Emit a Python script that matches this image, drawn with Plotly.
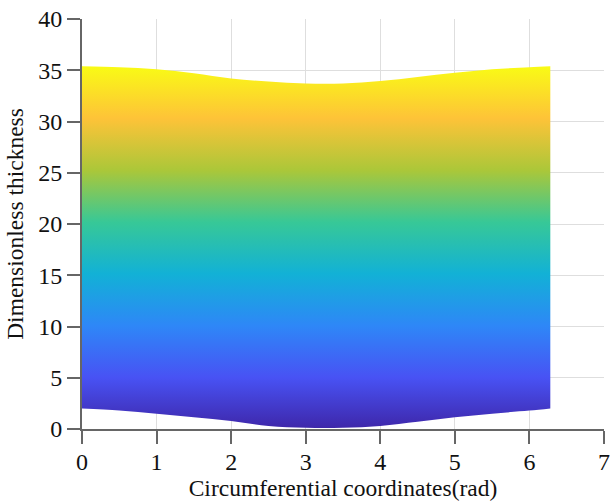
import plotly.graph_objects as go

# Circumferential coordinate (rad) samples
theta = [0, 0.5, 1, 1.5, 2, 2.5, 3, 3.5, 4, 4.5, 5, 5.5, 6, 6.28]
# Upper and lower boundaries of the dimensionless thickness region
upper = [35.4, 35.3, 35.1, 34.7, 34.2, 33.9, 33.7, 33.7, 33.95, 34.35, 34.75, 35.1, 35.3, 35.4]
lower = [2.0, 1.8, 1.5, 1.15, 0.78, 0.3, 0.12, 0.12, 0.3, 0.7, 1.15, 1.5, 1.8, 2.0]

x_ticks = [0, 1, 2, 3, 4, 5, 6, 7]
y_ticks = [0, 5, 10, 15, 20, 25, 30, 35, 40]

parula = [
    [0.0, "rgb(62,38,168)"],
    [0.143, "rgb(72,82,244)"],
    [0.286, "rgb(46,135,247)"],
    [0.429, "rgb(18,177,214)"],
    [0.571, "rgb(55,200,151)"],
    [0.714, "rgb(171,199,57)"],
    [0.857, "rgb(254,195,56)"],
    [1.0, "rgb(249,251,21)"],
]

fig = go.Figure()
fig.add_trace(go.Scatter(
    x=theta, y=lower, mode="lines",
    line=dict(width=0, shape="spline", color="rgba(0,0,0,0)"),
    showlegend=False, hoverinfo="skip",
))
fig.add_trace(go.Scatter(
    x=theta, y=upper, mode="lines",
    line=dict(width=0, shape="spline", color="rgba(0,0,0,0)"),
    fill="tonexty",
    fillgradient=dict(type="vertical", colorscale=parula,
                      start=min(lower), stop=max(upper)),
    showlegend=False, hoverinfo="skip",
))

font_family = "Liberation Serif"
axis_common = dict(
    showgrid=True, gridcolor="#dedede", gridwidth=1,
    zeroline=False, showline=True, linecolor="#666666", linewidth=2,
    ticks="outside", ticklen=13, tickcolor="#666666", tickwidth=2,
    tickfont=dict(family=font_family, size=24, color="#111111"),
    mirror=False,
)

fig.update_layout(
    width=616, height=503,
    margin=dict(l=82, r=6, t=17, b=74),
    paper_bgcolor="white", plot_bgcolor="white",
    font=dict(family=font_family, color="#111111"),
    xaxis=dict(range=[0, 7], tickvals=x_ticks, ticklabelstandoff=-3, **axis_common,
               title=dict(text="Circumferential coordinates(rad)",
                          font=dict(family=font_family, size=23.5), standoff=0)),
    yaxis=dict(range=[0, 40], tickvals=y_ticks, **axis_common,
               title=dict(text="Dimensionless thickness",
                          font=dict(family=font_family, size=23.5), standoff=8)),
)

fig.write_html("out.html")
